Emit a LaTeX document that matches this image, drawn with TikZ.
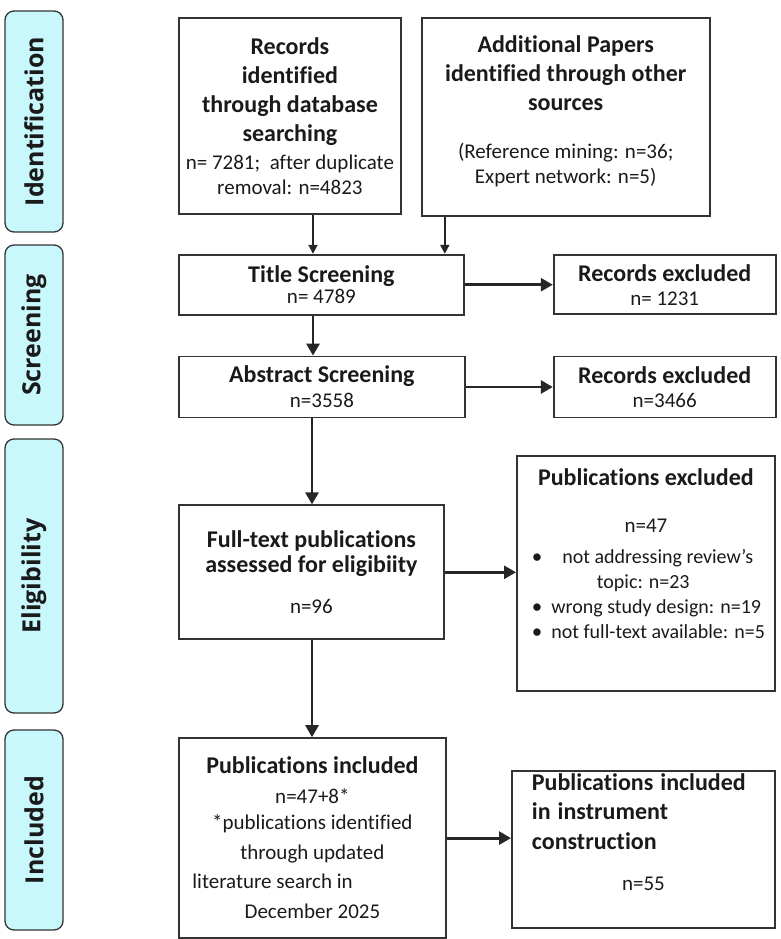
\documentclass[tikz,border=0pt]{standalone}
\usepackage{fontspec}
\setmainfont{Carlito}[RawFeature={-liga;-clig;-calt}]
\newfontfamily\stagefont{Open Sans}
\usetikzlibrary{shapes, arrows.meta, positioning}
\definecolor{prismacyan}{HTML}{C8F8FC}
\definecolor{prismaline}{HTML}{333333}
\definecolor{prismatext}{HTML}{1A1A1A}
\newcommand{\hd}[1]{{\fontsize{24}{29}\selectfont\bfseries #1}}
\newcommand{\sm}[1]{{\fontsize{20}{25}\selectfont #1}}

\begin{document}
\begin{tikzpicture}[
      x=1pt, y=-1pt,
      stage/.style={rectangle, rounded corners=9pt, draw=prismaline, fill=prismacyan, line width=1.3pt, rotate=90, minimum height=58pt, inner sep=0pt, font=\stagefont\fontsize{25}{30}\selectfont\bfseries, text=prismatext},
      box/.style={rectangle, draw=prismaline, line width=1.8pt, align=center, inner sep=3pt, font=\fontsize{21}{25}\selectfont, text=prismatext},
      arr/.style={line width=2.8pt, black!85, -{Triangle[length=12pt, width=13pt]}},
      arrthin/.style={line width=1.8pt, black!85, -{Triangle[length=9pt, width=9pt]}}
    ]
  \useasboundingbox (0,0) rectangle (781,939);

  % stage labels
  \node[stage, minimum width=221pt] (ident) at (34,121.5) {Identification};
  \node[stage, minimum width=180pt] (screen) at (34,335) {Screening};
  \node[stage, minimum width=274pt] (elig) at (34,576) {Eligibility};
  \node[stage, minimum width=200pt] (inclst) at (34,830) {Included};

  % identification
  \node[box, minimum width=222pt, minimum height=196pt, anchor=north west] (recs) at (178,17)
    {\hd{Records}\\[4pt] \hd{identified}\\[4pt] \hd{through database}\\[4pt] \hd{searching}\\[3pt]
     n= 7281;~ after duplicate\\ removal: n=4823};
  \node[box, minimum width=288pt, minimum height=198pt, right=19pt of recs.north east, anchor=north west] (other)
    {\hd{Additional Papers}\\[4pt] \hd{identified through other}\\[4pt] \hd{sources}\\[23pt]
     (Reference mining: n=36;\\ Expert network: n=5)\\[-10pt]\mbox{}};

  % screening
  \node[box, minimum width=285pt, minimum height=60pt, below=39pt of recs.south west, anchor=north west] (title)
    {\hd{Title Screening}\\[-4pt] n= 4789};
  \node[box, minimum width=222pt, minimum height=59pt, right=88pt of title] (excl1)
    {\hd{Records excluded}\\[-1pt] n= 1231};
  \node[box, minimum width=286pt, minimum height=61pt, below=40pt of title.south west, anchor=north west] (abstr)
    {\hd{Abstract Screening}\\ n=3558};
  \node[box, minimum width=222pt, minimum height=61pt, right=87pt of abstr] (excl2)
    {\hd{Records excluded}\\[-1pt] n=3466};

  % eligibility
  \node[box, minimum width=265pt, minimum height=134pt, below=86pt of abstr.south west, anchor=north west] (full)
    {\hd{Full-text publications}\\ \hd{assessed for eligibiity}\\[16pt] n=96};
  \node[box, minimum width=258pt, minimum height=235pt, anchor=north west] (pubex) at (516,455)
    {\hd{Publications excluded}\\[22pt]
     n=47\\[6pt]
     \makebox[244pt][l]{\hspace{8pt}\textbullet\hspace{20pt}\sm{not addressing review’s}}\\
     \makebox[244pt][l]{\hspace{73pt}\sm{topic: n=23}}\\
     \makebox[244pt][l]{\hspace{8pt}\textbullet\hspace{9pt}\sm{wrong study design: n=19}}\\
     \makebox[244pt][l]{\hspace{8pt}\textbullet\hspace{9pt}\sm{not full-text available: n=5}}\\[15pt]\mbox{}};

  % included
  \node[box, minimum width=267pt, minimum height=200pt, below=97pt of full.south west, anchor=north west] (incl)
    {\hd{Publications included}\\[5pt] n=47+8*\\[1pt] *publications identified\\[5pt] through updated\\[4pt]
     \makebox[240pt][l]{literature search in}\\[5pt] December 2025};
  \node[box, minimum width=263pt, minimum height=157pt, text width=223pt, align=left, anchor=north west] (instr) at (511,770)
    {\hd{Publications included}\\[4pt] \hd{in instrument}\\[5pt] \hd{construction}\\[16pt]
     \makebox[223pt]{n=55}\\[9pt]\mbox{}};

  % arrows
  \draw[arrthin] ([xshift=135pt]recs.south west) -- ([xshift=135pt]title.north west);
  \draw[arrthin] ([xshift=24pt]other.south west) -- ([xshift=24pt]other.south west |- title.north);
  \draw[arr] (title.east) -- (title.east -| excl1.west);
  \draw[arr] ([xshift=135pt]title.south west) -- ([xshift=135pt]abstr.north west);
  \draw[arr] (abstr.east) -- (abstr.east -| excl2.west);
  \draw[arr] ([xshift=134pt]abstr.south west) -- ([xshift=134pt]full.north west);
  \draw[arr] (full.east) -- (full.east -| pubex.west);
  \draw[arr] ([xshift=134pt]full.south west) -- ([xshift=134pt]incl.north west);
  \draw[arr] (incl.east) -- (incl.east -| instr.west);
\end{tikzpicture}
\end{document}
